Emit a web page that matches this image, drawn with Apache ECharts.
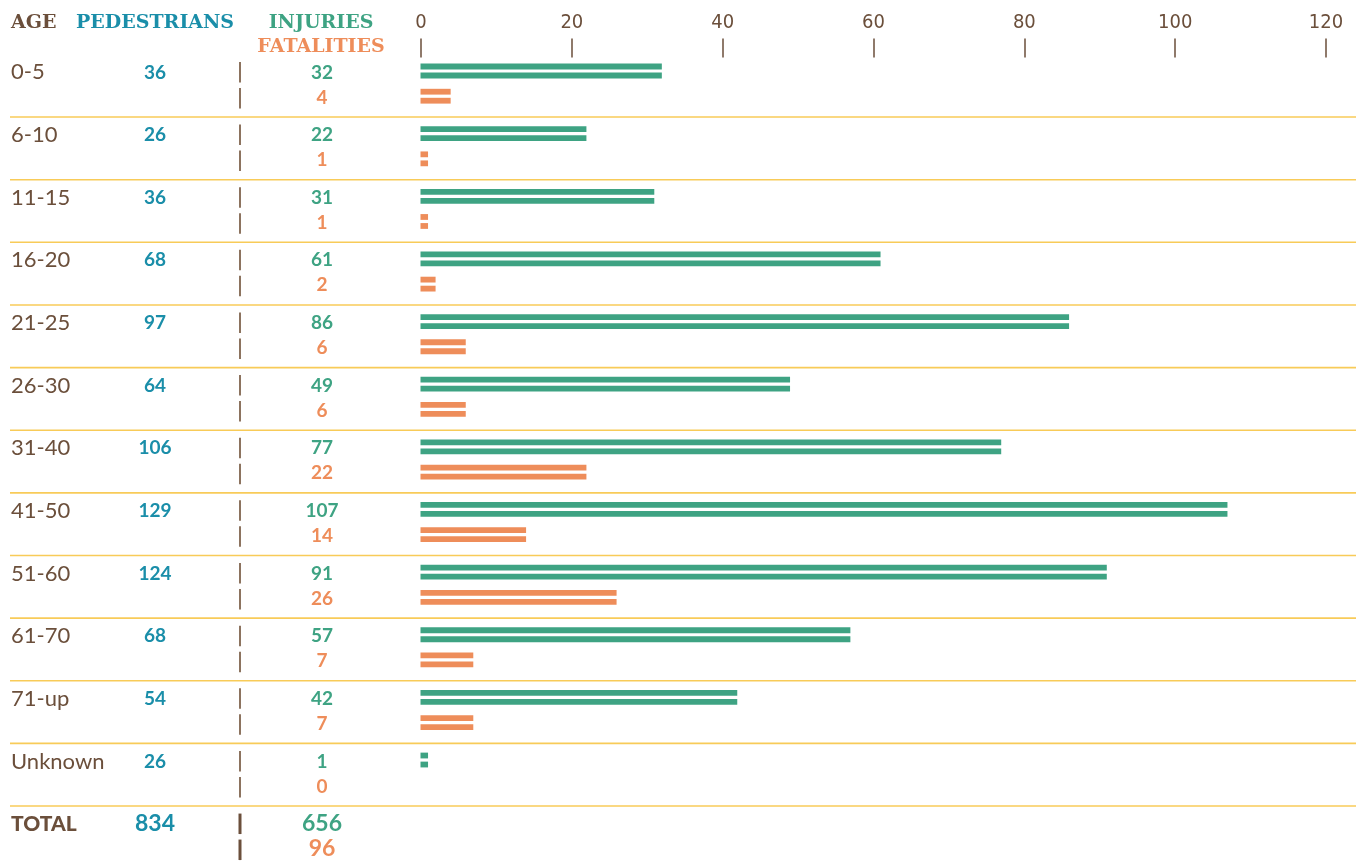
<!DOCTYPE html>
<html><head><meta charset="utf-8">
<script src="https://cdn.jsdelivr.net/npm/echarts@6/dist/echarts.min.js"></script>
<style>html,body{margin:0;padding:0;background:#fff}#c{width:1356px;height:863px}</style>
</head><body><div id="c"></div>
<script>
// ---- data ----
const ages = ['0-5','6-10','11-15','16-20','21-25','26-30','31-40','41-50','51-60','61-70','71-up','Unknown'];
const pedestrians = [36,26,36,68,97,64,106,129,124,68,54,26];
const injuries = [32,22,31,61,86,49,77,107,91,57,42,1];
const fatalities = [4,1,1,2,6,6,22,14,26,7,7,0];
const totalLabel = 'TOTAL';
const totalPedestrians = 834;
const totalInjuries = 656;
const totalFatalities = 96;
const headers = ['AGE','PEDESTRIANS','INJURIES','FATALITIES'];
const xMin = 0, xMax = 120, xStep = 20;

// ---- style ----
const BROWN = '#6b4f3b', TEAL = '#1a8ea9', GREEN = '#3ea383', ORANGE = '#ee8d5a', YELLOW = '#f8cb58', SEP = '#8c735f';
const SANS = 'Lato, "Open Sans", sans-serif';
const SLAB = '"DejaVu Serif", serif';

const cats = ages.concat([totalLabel]);
const chart = echarts.init(document.getElementById('c'), null, {renderer:'canvas'});

function tableItem(params, api){
  const i = api.value(1);
  const c = api.coord([0, i]);
  const h = Math.abs(api.size([0, 1])[1]);
  const top = c[1] - h/2;
  const isTotal = i === ages.length;
  const ped = isTotal ? totalPedestrians : pedestrians[i];
  const inj = isTotal ? totalInjuries : injuries[i];
  const fat = isTotal ? totalFatalities : fatalities[i];
  const fs = isTotal ? 23 : 19;
  const ch = [];
  if (i > 0) ch.push({type:'line', shape:{x1:10, y1:top, x2:1356, y2:top}, style:{stroke:YELLOW, lineWidth:1.6}});
  ch.push({type:'text', style:{text:cats[i], x:11, y:top+18, verticalAlign:'middle', align:'left',
    fontSize: isTotal ? 21 : 22, fontWeight: isTotal ? 900 : 'normal', fontFamily:SANS, fill:BROWN}});
  ch.push({type:'text', style:{text:String(ped), x:155, y:top+18, verticalAlign:'middle', align:'center',
    fontSize:fs, fontWeight:'bold', fontFamily:SANS, fill:TEAL}});
  ch.push({type:'text', style:{text:String(inj), x:322, y:top+18, verticalAlign:'middle', align:'center',
    fontSize:fs, fontWeight:'bold', fontFamily:SANS, fill:GREEN}});
  ch.push({type:'text', style:{text:String(fat), x:322, y:top+43, verticalAlign:'middle', align:'center',
    fontSize:fs, fontWeight:'bold', fontFamily:SANS, fill:ORANGE}});
  const lw = isTotal ? 3 : 2, col = isTotal ? BROWN : SEP;
  ch.push({type:'line', shape:{x1:240, y1:top+7.5, x2:240, y2:top+28}, style:{stroke:col, lineWidth:lw}});
  ch.push({type:'line', shape:{x1:240, y1:top+33.5, x2:240, y2:top+54}, style:{stroke:col, lineWidth:lw}});
  return {type:'group', children:ch};
}

function barRenderer(offset, color){
  return function(params, api){
    const v = api.value(0), i = api.value(1);
    const p0 = api.coord([0, i]), p1 = api.coord([v, i]);
    const h = Math.abs(api.size([0, 1])[1]);
    const top = p0[1] - h/2;
    const w = p1[0] - p0[0];
    if (!(w > 0)) return null;
    return {type:'group', children:[
      {type:'rect', shape:{x:p0[0]-0.5, y:top+offset, width:w, height:5.8}, style:{fill:color}},
      {type:'rect', shape:{x:p0[0]-0.5, y:top+offset+9, width:w, height:5.8}, style:{fill:color}}
    ]};
  };
}

// rows are 62.64px tall; the plot runs from y=54.4 to the bottom edge (863),
// so the last (TOTAL) row is partly cut: 808.6 / 62.64 = 12.909 rows visible
const option = {
  animation:false,
  backgroundColor:'#fff',
  grid:{left:421, right:30, top:54.4, bottom:0, containLabel:false},
  xAxis:{type:'value', position:'top', min:xMin, max:xMax, interval:xStep, offset:-3,
    axisLine:{show:false, onZero:false}, splitLine:{show:false},
    axisTick:{show:true, length:19, lineStyle:{color:BROWN, width:1.5}},
    axisLabel:{margin:25, color:BROWN, fontSize:20, fontFamily:'"Liberation Sans Narrow", "DejaVu Sans Condensed", sans-serif'}},
  yAxis:{type:'value', min:-0.5, max:12.409, inverse:true, show:false, splitLine:{show:false}},
  graphic:[
    {type:'text', x:11, y:23, style:{text:headers[0], verticalAlign:'middle', fontSize:19, fontWeight:'bold', fontFamily:SLAB, fill:BROWN}},
    {type:'text', x:76, y:23, style:{text:headers[1], verticalAlign:'middle', fontSize:19, fontWeight:'bold', fontFamily:SLAB, fill:TEAL}},
    {type:'text', x:321, y:23, style:{text:headers[2], align:'center', verticalAlign:'middle', fontSize:19, fontWeight:'bold', fontFamily:SLAB, fill:GREEN}},
    {type:'text', x:321, y:47, style:{text:headers[3], align:'center', verticalAlign:'middle', fontSize:19, fontWeight:'bold', fontFamily:SLAB, fill:ORANGE}}
  ],
  series:[
    {type:'custom', name:'table', clip:false, renderItem:tableItem, encode:{x:0, y:1},
      data:cats.map((c,i)=>[0,i]), silent:true, z:1},
    {type:'custom', name:'Injuries', clip:false, renderItem:barRenderer(9.2, GREEN), encode:{x:0, y:1},
      data:injuries.map((v,i)=>[v,i]), z:2},
    {type:'custom', name:'Fatalities', clip:false, renderItem:barRenderer(34.4, ORANGE), encode:{x:0, y:1},
      data:fatalities.map((v,i)=>[v,i]), z:2}
  ]
};
chart.setOption(option);
</script></body></html>
